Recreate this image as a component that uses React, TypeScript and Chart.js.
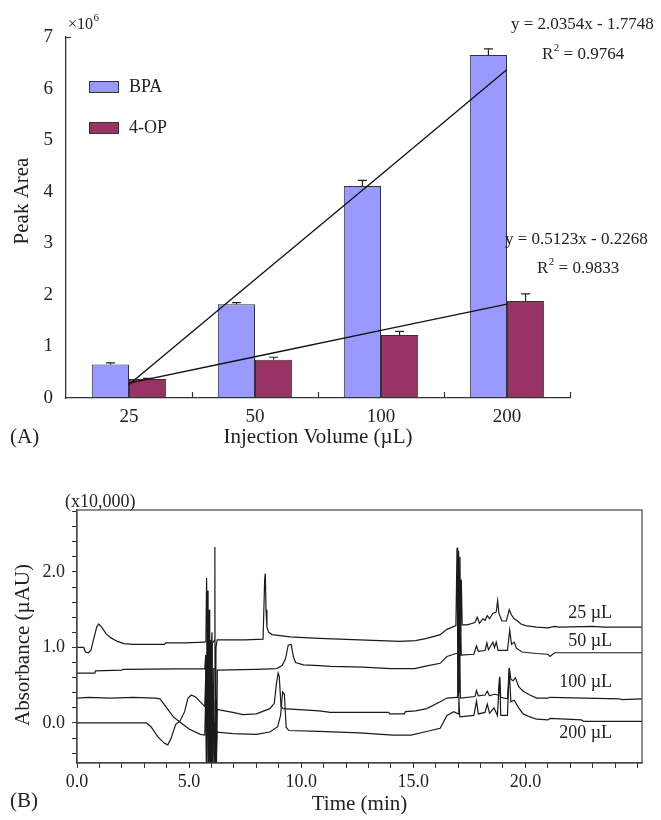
import React, { useEffect, useRef } from 'react';
import { Chart, registerables } from 'chart.js';

Chart.register(...registerables);

// ---------- Panel A data ----------
const volumes = ['25', '50', '100', '200'];
const bpaArea = [0.65, 1.82, 4.11, 6.65];
const bpaErr = [0.03, 0.03, 0.11, 0.12];
const opArea = [0.37, 0.74, 1.22, 1.88];
const opErr = [0.01, 0.05, 0.07, 0.14];
const bpaFit = [0.26, 2.3, 4.33, 6.37];
const opFit = [0.29, 0.8, 1.31, 1.82];
const bpaEquation = 'y = 2.0354x - 1.7748';
const bpaR2 = ' = 0.9764';
const opEquation = 'y = 0.5123x - 0.2268';
const opR2 = ' = 0.9833';

// ---------- Panel B data (time min, absorbance x10,000) ----------
const trace25 = [
  [0, 1.0], [0.3, 1.0], [0.38, 0.94], [0.5, 0.93], [0.62, 0.96], [0.75, 1.12], [0.88, 1.27], [0.97, 1.31],
  [1.1, 1.27], [1.3, 1.18], [1.5, 1.13], [1.8, 1.08], [2.1, 1.05], [2.5, 1.04], [3.9, 1.04], [3.95, 1.06],
  [4.8, 1.06], [5.7, 1.07], [5.75, 1.08], [5.78, 1.92], [5.8, 1.2], [5.83, 1.75], [5.86, -0.6], [5.89, 1.5],
  [5.92, 0.2], [5.96, 1.1], [6.0, -0.6], [6.03, 1.05], [6.14, 1.1], [6.15, 2.33], [6.16, -0.6], [6.2, 1.0],
  [6.25, 1.1], [7.5, 1.1], [8.3, 1.11], [8.37, 1.9], [8.4, 1.98], [8.43, 1.5], [8.47, 1.27], [8.55, 1.2],
  [8.7, 1.17], [9.5, 1.14], [10.8, 1.12], [11.7, 1.11], [13.5, 1.09], [14.4, 1.08], [15.1, 1.09], [15.6, 1.12],
  [16.2, 1.17], [16.5, 1.24], [16.9, 1.29], [16.95, 2.32], [16.98, 1.0], [17.02, 2.28], [17.05, 1.1],
  [17.08, 2.2], [17.11, 1.2], [17.14, 1.9], [17.18, 1.3], [17.4, 1.3], [17.75, 1.33], [17.85, 1.4],
  [17.95, 1.32], [18.1, 1.38], [18.2, 1.36], [18.3, 1.42], [18.4, 1.38], [18.55, 1.45], [18.7, 1.47],
  [18.76, 1.62], [18.82, 1.45], [18.95, 1.35], [19.15, 1.35], [19.28, 1.5], [19.38, 1.43], [19.5, 1.38],
  [19.65, 1.35], [19.8, 1.31], [20.0, 1.29], [20.5, 1.27], [21.0, 1.26], [21.3, 1.28], [21.5, 1.27],
  [23.0, 1.28], [23.5, 1.27], [25.2, 1.27],
];
const trace50 = [
  [0, 0.66], [0.8, 0.66], [0.82, 0.69], [2.0, 0.7], [2.05, 0.71], [5.7, 0.72], [5.74, 0.9], [5.77, -0.6],
  [5.8, 1.75], [5.84, 0.4], [5.88, 1.4], [5.92, -0.6], [5.97, 0.8], [6.02, 1.2], [6.06, -0.6], [6.1, 0.72],
  [6.18, 0.72], [6.22, -0.6], [6.26, 0.7], [8.0, 0.71], [8.9, 0.72], [9.15, 0.76], [9.3, 0.85], [9.42, 1.03],
  [9.55, 1.04], [9.65, 0.88], [9.75, 0.8], [10.1, 0.77], [10.8, 0.76], [11.3, 0.75], [12.75, 0.74], [14.0, 0.72],
  [15.06, 0.72], [15.5, 0.75], [16.2, 0.79], [16.5, 0.88], [16.9, 0.92], [16.95, 0.92], [16.98, 1.9],
  [17.01, 0.5], [17.04, 1.7], [17.07, 0.4], [17.1, 1.5], [17.14, 0.9], [17.7, 0.91], [17.82, 1.02], [17.9, 0.95],
  [18.2, 0.96], [18.28, 1.06], [18.35, 0.97], [18.55, 1.07], [18.62, 1.0], [18.7, 1.07], [18.78, 0.96],
  [19.2, 0.96], [19.3, 1.23], [19.38, 1.04], [19.5, 1.07], [19.6, 0.99], [19.85, 0.94], [20.5, 0.92],
  [21.0, 0.91], [21.1, 0.88], [21.3, 0.93], [25.2, 0.93],
];
const trace100 = [
  [0, 0.0], [3.1, 0.0], [3.3, -0.05], [3.6, -0.18], [3.9, -0.27], [4.05, -0.29], [4.2, -0.2], [4.4, -0.02],
  [4.6, 0.03], [4.8, 0.15], [4.95, 0.33], [5.1, 0.37], [5.3, 0.34], [5.5, 0.28], [5.7, 0.22], [5.76, 0.8],
  [5.79, -0.6], [5.83, 1.1], [5.87, -0.6], [5.91, 0.9], [5.95, 0.1], [5.99, -0.6], [6.04, 0.5], [6.08, 0.17],
  [6.12, -0.6], [6.17, 0.3], [6.21, -0.6], [6.25, 0.18], [6.4, 0.17], [6.95, 0.14], [7.4, 0.11], [8.0, 0.12],
  [8.6, 0.19], [8.8, 0.26], [8.9, 0.53], [8.97, 0.66], [9.02, 0.62], [9.1, 0.22], [9.2, 0.19], [10.8, 0.16],
  [11.3, 0.14], [13.9, 0.14], [13.95, 0.12], [14.6, 0.12], [14.65, 0.15], [15.1, 0.16], [15.6, 0.19],
  [16.2, 0.28], [16.5, 0.33], [16.95, 0.34], [16.98, 0.95], [17.02, 0.35], [17.06, 0.8], [17.1, 0.33],
  [17.75, 0.35], [17.82, 0.43], [17.9, 0.36], [18.2, 0.37], [18.3, 0.42], [18.4, 0.36], [18.6, 0.38],
  [18.8, 0.37], [18.85, 0.61], [18.9, 0.34], [19.2, 0.32], [19.28, 0.73], [19.35, 0.58], [19.45, 0.56],
  [19.55, 0.6], [19.7, 0.48], [19.9, 0.42], [20.2, 0.37], [20.5, 0.33], [21.0, 0.33], [21.1, 0.34],
  [24.2, 0.32], [24.3, 0.31], [25.2, 0.32],
];
const trace200 = [
  [0, 0.33], [0.5, 0.34], [1.5, 0.33], [2.5, 0.34], [3.5, 0.33], [3.7, 0.32], [4.0, 0.2], [4.3, 0.08],
  [4.6, 0.01], [5.0, -0.08], [5.5, -0.15], [5.7, -0.16], [5.75, 0.5], [5.78, -0.6], [5.82, 0.9], [5.86, -0.1],
  [5.9, 0.6], [5.94, -0.6], [5.98, 0.3], [6.03, -0.6], [6.08, -0.12], [6.14, 0.0], [6.19, -0.6], [6.24, -0.12],
  [6.95, -0.14], [8.0, -0.15], [8.6, -0.12], [8.95, -0.05], [9.08, 0.1], [9.17, 0.41], [9.25, 0.38],
  [9.33, -0.06], [9.45, -0.1], [10.8, -0.11], [12.6, -0.13], [14.1, -0.16], [14.9, -0.16], [15.5, -0.12],
  [16.2, -0.07], [16.5, 0.1], [16.8, 0.15], [17.0, 0.12], [17.03, 0.35], [17.07, 0.08], [17.7, 0.1],
  [17.82, 0.29], [17.9, 0.12], [18.2, 0.14], [18.3, 0.25], [18.4, 0.13], [18.6, 0.2], [18.75, 0.1],
  [18.85, 0.61], [18.9, 0.1], [19.2, 0.1], [19.28, 0.72], [19.35, 0.28], [19.5, 0.3], [19.7, 0.2],
  [19.9, 0.12], [20.2, 0.08], [20.5, 0.05], [21.0, 0.04], [21.1, 0.06], [22.5, 0.04], [22.6, 0.02], [25.2, 0.02],
];
const traceLabels = ['25 µL', '50 µL', '100 µL', '200 µL'];
const timeLabelValues = [0, 5, 10, 15, 20];
const absLabelValues = [0, 1, 2];

const FONT = '"Liberation Serif", "Times New Roman", serif';
const INK = '#333333';

function rotText(ctx: CanvasRenderingContext2D, text: string, x: number, y: number, size: number) {
  ctx.save();
  ctx.translate(x, y);
  ctx.rotate(-Math.PI / 2);
  ctx.font = `${size}px ${FONT}`;
  ctx.textAlign = 'center';
  ctx.textBaseline = 'middle';
  ctx.fillText(text, 0, 0);
  ctx.restore();
}

function text(ctx: CanvasRenderingContext2D, t: string, x: number, y: number, size: number, align: CanvasTextAlign = 'left') {
  ctx.font = `${size}px ${FONT}`;
  ctx.textAlign = align;
  ctx.textBaseline = 'middle';
  ctx.fillText(t, x, y);
}

function drawR2(ctx: CanvasRenderingContext2D, x: number, y: number, rest: string, size: number) {
  ctx.textAlign = 'left';
  ctx.textBaseline = 'middle';
  ctx.font = `${size}px ${FONT}`;
  ctx.fillText('R', x, y);
  const w = ctx.measureText('R').width;
  ctx.font = `${Math.round(size * 0.62)}px ${FONT}`;
  ctx.fillText('2', x + w + 0.5, y - size * 0.38);
  const w2 = ctx.measureText('2').width;
  ctx.font = `${size}px ${FONT}`;
  ctx.fillText(rest, x + w + w2 + 0.5, y);
}

const panelAPlugin = {
  id: 'panelA',
  afterDatasetsDraw(chart: any) {
    const ctx = chart.ctx as CanvasRenderingContext2D;
    const yScale = chart.scales.y;
    const area = chart.chartArea;
    ctx.save();
    ctx.strokeStyle = '#222';
    ctx.lineWidth = 1.2;
    const errs = [bpaErr, opErr];
    const vals = [bpaArea, opArea];
    [2, 3].forEach((di, k) => {
      const meta = chart.getDatasetMeta(di);
      meta.data.forEach((bar: any, i: number) => {
        const top = yScale.getPixelForValue(vals[k][i] + errs[k][i]);
        ctx.beginPath();
        ctx.moveTo(bar.x, bar.y);
        ctx.lineTo(bar.x, top);
        ctx.moveTo(bar.x - 4.5, top);
        ctx.lineTo(bar.x + 4.5, top);
        ctx.stroke();
      });
    });
    ctx.restore();
  },
  afterDraw(chart: any) {
    const ctx = chart.ctx as CanvasRenderingContext2D;
    const area = chart.chartArea;
    ctx.save();
    // inward ticks at category boundaries
    ctx.strokeStyle = INK;
    ctx.lineWidth = 1.2;
    const w = (area.right - area.left) / volumes.length;
    for (let i = 1; i <= volumes.length; i++) {
      const x = Math.round(area.left + i * w) + 0.5;
      ctx.beginPath();
      ctx.moveTo(x, area.bottom);
      ctx.lineTo(x, area.bottom - 6);
      ctx.stroke();
    }
    ctx.beginPath();
    ctx.moveTo(area.left, area.top + 0.5);
    ctx.lineTo(area.left + 5, area.top + 0.5);
    ctx.stroke();
    ctx.fillStyle = '#222';
    // x10^6
    text(ctx, '×10', 68, 25, 16);
    ctx.font = `16px ${FONT}`;
    const wx = ctx.measureText('×10').width;
    text(ctx, '6', 68 + wx + 0.5, 18, 11);
    // legend
    const leg = [
      { label: 'BPA', color: '#9999ff', y: 81 },
      { label: '4-OP', color: '#993366', y: 122 },
    ];
    leg.forEach((l) => {
      ctx.fillStyle = l.color;
      ctx.fillRect(89, l.y, 29, 11);
      ctx.strokeStyle = '#333';
      ctx.lineWidth = 1;
      ctx.strokeRect(89.5, l.y + 0.5, 29, 11);
      ctx.fillStyle = '#222';
      text(ctx, l.label, 129, l.y + 6, 18);
    });
    // equations
    text(ctx, bpaEquation, 511, 25, 17);
    drawR2(ctx, 542, 55, bpaR2, 17);
    text(ctx, opEquation, 505, 240, 17);
    drawR2(ctx, 537, 269, opR2, 17);
    // titles
    rotText(ctx, 'Peak Area', 22, 201, 21);
    text(ctx, 'Injection Volume (µL)', (area.left + area.right) / 2, 437, 21, 'center');
    text(ctx, '(A)', 10, 437, 21);
    ctx.restore();
  },
};

const panelBPlugin = {
  id: 'panelB',
  afterDraw(chart: any) {
    const ctx = chart.ctx as CanvasRenderingContext2D;
    const a = chart.chartArea;
    ctx.save();
    ctx.strokeStyle = '#444';
    ctx.lineWidth = 1.2;
    ctx.strokeRect(a.left, a.top, a.right - a.left, a.bottom - a.top);
    ctx.fillStyle = '#222';
    text(ctx, '(x10,000)', 65, 52, 18);
    rotText(ctx, 'Absorbance (µAU)', 23, 195, 21);
    text(ctx, 'Time (min)', (a.left + a.right) / 2, 354, 21, 'center');
    text(ctx, '(B)', 10, 351, 21);
    const ys = [163, 191, 232, 283];
    traceLabels.forEach((l, i) => text(ctx, l, 612, ys[i], 18, 'right'));
    ctx.restore();
  },
};

export default function App() {
  const refA = useRef<HTMLCanvasElement>(null);
  const refB = useRef<HTMLCanvasElement>(null);

  useEffect(() => {
    const chartA = new Chart(refA.current as HTMLCanvasElement, {
      type: 'bar',
      data: {
        labels: volumes,
        datasets: [
          { type: 'line', label: 'BPA fit', data: bpaFit, borderColor: '#111', borderWidth: 1.3, pointRadius: 0, fill: false, order: 0 },
          { type: 'line', label: '4-OP fit', data: opFit, borderColor: '#111', borderWidth: 1.3, pointRadius: 0, fill: false, order: 0 },
          { type: 'bar', label: 'BPA', data: bpaArea, backgroundColor: '#9999ff', borderColor: '#333', borderWidth: 1, borderSkipped: false, categoryPercentage: 0.59, barPercentage: 1, order: 1 },
          { type: 'bar', label: '4-OP', data: opArea, backgroundColor: '#993366', borderColor: '#333', borderWidth: 1, borderSkipped: false, categoryPercentage: 0.59, barPercentage: 1, order: 1 },
        ],
      } as any,
      options: {
        responsive: false,
        animation: false,
        devicePixelRatio: 1,
        layout: { padding: { top: 37, right: 91, left: 0, bottom: 0 } },
        plugins: { legend: { display: false }, tooltip: { enabled: false } },
        scales: {
          x: {
            grid: { display: false, drawTicks: false },
            border: { display: true, color: INK, width: 1.3 },
            ticks: { font: { family: FONT, size: 19 }, color: '#222', padding: 8 },
            afterFit: (s: any) => { s.height = 52; },
          },
          y: {
            min: 0,
            max: 7,
            grid: { display: false, drawTicks: false },
            border: { display: true, color: INK, width: 1.3 },
            ticks: { stepSize: 1, font: { family: FONT, size: 19 }, color: '#222', padding: 13 },
            afterFit: (s: any) => { s.width = 66; },
          },
        },
      } as any,
      plugins: [panelAPlugin],
    });

    const traces = [trace25, trace50, trace100, trace200];
    const chartB = new Chart(refB.current as HTMLCanvasElement, {
      type: 'line',
      data: {
        datasets: traces.map((tr) => ({
          data: tr.map(([x, y]) => ({ x, y })),
          borderColor: '#1a1a1a',
          borderWidth: 1.2,
          pointRadius: 0,
          tension: 0,
          fill: false,
        })),
      },
      options: {
        responsive: false,
        animation: false,
        devicePixelRatio: 1,
        layout: { padding: { top: 60, right: 19, left: 0, bottom: 0 } },
        plugins: { legend: { display: false }, tooltip: { enabled: false } },
        scales: {
          x: {
            type: 'linear',
            min: 0,
            max: 25.2,
            afterBuildTicks: (s: any) => {
              const t = [];
              for (let i = 0; i <= 25; i++) t.push({ value: i });
              s.ticks = t;
            },
            ticks: {
              autoSkip: false,
              maxRotation: 0,
              font: { family: FONT, size: 18 },
              color: '#222',
              padding: 3,
              callback: (v: any) => (timeLabelValues.includes(v) ? Number(v).toFixed(1) : ''),
            },
            grid: { display: true, drawOnChartArea: false, drawTicks: true, tickLength: 5, color: INK, lineWidth: 1 },
            border: { display: true, color: '#444', width: 1.2 },
            afterFit: (s: any) => { s.height = 57; },
          },
          y: {
            min: -0.53,
            max: 2.82,
            afterBuildTicks: (s: any) => {
              const t = [];
              for (let i = -2; i <= 14; i++) t.push({ value: i / 5 });
              s.ticks = t;
            },
            ticks: {
              autoSkip: false,
              font: { family: FONT, size: 18 },
              color: '#222',
              padding: 7,
              callback: (v: any) => (absLabelValues.some((m) => Math.abs(m - v) < 1e-6) ? Number(v).toFixed(1) : ''),
            },
            grid: { display: true, drawOnChartArea: false, drawTicks: true, tickLength: 5, color: INK, lineWidth: 1 },
            border: { display: true, color: '#444', width: 1.2 },
            afterFit: (s: any) => { s.width = 77; },
          },
        },
      } as any,
      plugins: [panelBPlugin],
    });

    return () => {
      chartA.destroy();
      chartB.destroy();
    };
  }, []);

  return (
    <div style={{ position: 'absolute', left: 0, top: 0, width: 661, height: 820, background: '#fff' }}>
      <canvas ref={refA} width={661} height={450} style={{ position: 'absolute', left: 0, top: 0, width: 661, height: 450 }} />
      <canvas ref={refB} width={661} height={370} style={{ position: 'absolute', left: 0, top: 450, width: 661, height: 370 }} />
    </div>
  );
}
